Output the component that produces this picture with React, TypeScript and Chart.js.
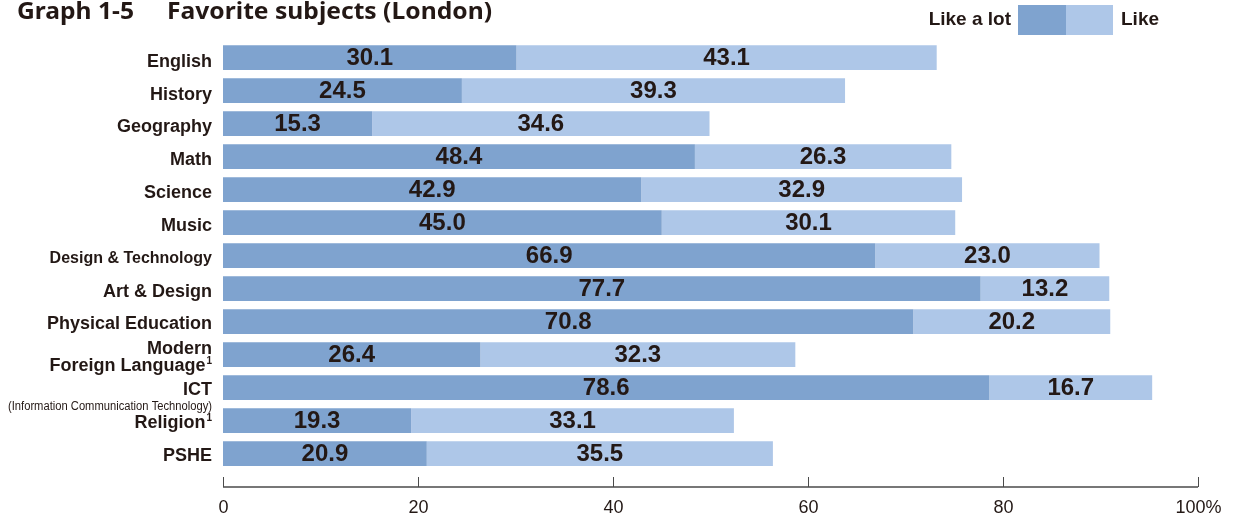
import React, { useEffect, useRef } from "react";
import { Chart, registerables } from "chart.js";

Chart.register(...registerables);

const categories = [
  "English",
  "History",
  "Geography",
  "Math",
  "Science",
  "Music",
  "Design & Technology",
  "Art & Design",
  "Physical Education",
  "Modern Foreign Language",
  "ICT",
  "Religion",
  "PSHE",
];
const likeALot = [30.1, 24.5, 15.3, 48.4, 42.9, 45.0, 66.9, 77.7, 70.8, 26.4, 78.6, 19.3, 20.9];
const like = [43.1, 39.3, 34.6, 26.3, 32.9, 30.1, 23.0, 13.2, 20.2, 32.3, 16.7, 33.1, 35.5];
const xTickValues = [0, 20, 40, 60, 80, 100];
const xTickLabels = ["0", "20", "40", "60", "80", "100%"];
const seriesNames = ["Like a lot", "Like"];
const titleParts = ["Graph 1-5", "Favorite subjects (London)"];

const DARK = "#7FA3CF";
const LIGHT = "#AEC7E8";
const INK = "#231815";
const SANS = '"Liberation Sans", Arial, sans-serif';

type Line = { text: string; size?: number; weight?: string; dy?: number; sup?: string; fit?: number };

function labelLines(name: string): Line[] {
  if (name === "Design & Technology") return [{ text: name, size: 16 }];
  if (name === "Modern Foreign Language")
    return [
      { text: "Modern", dy: -8 },
      { text: "Foreign Language", dy: 9, sup: "1" },
    ];
  if (name === "ICT")
    return [
      { text: "ICT", dy: 0 },
      { text: "(Information Communication Technology)", size: 12, weight: "normal", dy: 17, fit: 204 },
    ];
  if (name === "Religion") return [{ text: "Religion", sup: "1" }];
  return [{ text: name }];
}

function fitText(ctx: CanvasRenderingContext2D, text: string, x: number, y: number, width: number) {
  const w = ctx.measureText(text).width;
  ctx.save();
  ctx.translate(x, y);
  ctx.scale(width / w, 1);
  ctx.fillText(text, 0, 0);
  ctx.restore();
}

const drawPlugin = {
  id: "customDraw",
  afterDraw(chart: any) {
    const ctx: CanvasRenderingContext2D = chart.ctx;
    const xs = chart.scales.x;
    const ys = chart.scales.y;
    ctx.save();
    ctx.fillStyle = INK;

    // Title
    ctx.textBaseline = "alphabetic";
    ctx.textAlign = "left";
    ctx.font = `bold 24px "Noto Sans", "Open Sans", sans-serif`;
    fitText(ctx, titleParts[0], 17, 19, 117);
    fitText(ctx, titleParts[1], 167, 19, 325);

    // Legend
    ctx.textBaseline = "middle";
    ctx.font = `bold 19px ${SANS}`;
    ctx.textAlign = "right";
    ctx.fillText(seriesNames[0], 1011, 20);
    ctx.fillStyle = DARK;
    ctx.fillRect(1018, 5, 48, 30);
    ctx.fillStyle = LIGHT;
    ctx.fillRect(1066, 5, 47, 30);
    ctx.fillStyle = INK;
    ctx.textAlign = "left";
    ctx.fillText(seriesNames[1], 1121, 20);

    // Y labels
    const rightX = ys.right - 11;
    const n = categories.length;
    categories.forEach((name, i) => {
      const cy = ys.getPixelForValue(i) + 4.2 - (2 * i) / (n - 1);
      labelLines(name).forEach((ln) => {
        const size = ln.size ?? 18;
        const weight = ln.weight ?? "bold";
        const y = cy + (ln.dy ?? 0);
        ctx.textBaseline = "middle";
        ctx.textAlign = "right";
        let rx = rightX;
        if (ln.sup) {
          ctx.font = `bold 10px ${SANS}`;
          ctx.fillText(ln.sup, rx, y - 5);
          rx -= ctx.measureText(ln.sup).width + 1;
        }
        ctx.font = `${weight} ${size}px ${SANS}`;
        if (ln.fit) {
          ctx.textAlign = "left";
          fitText(ctx, ln.text, rx - ln.fit, y, ln.fit);
        } else {
          ctx.fillText(ln.text, rx, y);
        }
      });
    });

    // X axis line, ticks and labels
    const axisY = chart.chartArea.bottom + 17;
    ctx.strokeStyle = "#4a4a4a";
    ctx.lineWidth = 1.3;
    ctx.beginPath();
    ctx.moveTo(xs.getPixelForValue(xTickValues[0]), axisY);
    ctx.lineTo(xs.getPixelForValue(xTickValues[xTickValues.length - 1]), axisY);
    ctx.stroke();
    ctx.lineWidth = 1;
    ctx.font = `18px ${SANS}`;
    ctx.textAlign = "center";
    ctx.textBaseline = "middle";
    xTickValues.forEach((v, i) => {
      const px = Math.round(xs.getPixelForValue(v)) + 0.5;
      ctx.beginPath();
      ctx.moveTo(px, axisY - 10);
      ctx.lineTo(px, axisY);
      ctx.stroke();
      ctx.fillText(xTickLabels[i], px, axisY + 21.5);
    });

    // Data labels
    ctx.font = `bold 24px ${SANS}`;
    ctx.textAlign = "center";
    ctx.textBaseline = "middle";
    chart.data.datasets.forEach((ds: any, di: number) => {
      const meta = chart.getDatasetMeta(di);
      meta.data.forEach((el: any, j: number) => {
        const v = ds.data[j];
        const cx = (el.x + el.base) / 2;
        ctx.fillText(v.toFixed(1), cx, el.y + 1);
      });
    });

    ctx.restore();
  },
};

export default function App() {
  const ref = useRef<HTMLCanvasElement | null>(null);
  useEffect(() => {
    document.body.style.margin = "0";
    if (!ref.current) return;
    const chart = new Chart(ref.current, {
      type: "bar",
      data: {
        labels: categories,
        datasets: [
          { label: seriesNames[0], data: likeALot, backgroundColor: DARK, borderWidth: 0 },
          { label: seriesNames[1], data: like, backgroundColor: LIGHT, borderWidth: 0 },
        ],
      },
      options: {
        indexAxis: "y",
        animation: false,
        responsive: true,
        maintainAspectRatio: false,
        datasets: { bar: { categoryPercentage: 0.75, barPercentage: 1 } },
        layout: { padding: { left: 223, right: 37, top: 41, bottom: 47 } },
        plugins: { legend: { display: false }, title: { display: false }, tooltip: { enabled: false } },
        scales: {
          x: { display: false, stacked: true, min: 0, max: 100, ticks: { stepSize: 20 } },
          y: { display: false, stacked: true, offset: true },
        },
      },
      plugins: [drawPlugin],
    });
    return () => chart.destroy();
  }, []);
  return (
    <div style={{ width: 1235, height: 517, position: "relative" }}>
      <canvas ref={ref} />
    </div>
  );
}
